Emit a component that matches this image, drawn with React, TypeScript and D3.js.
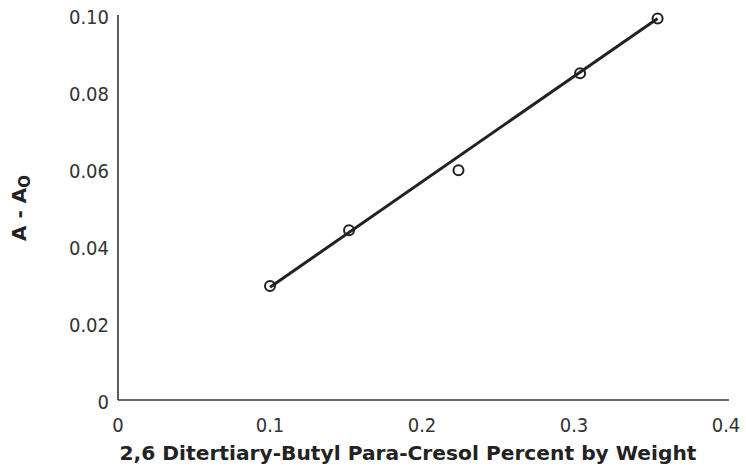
import React from "react";
import * as d3 from "d3";

const xValues = [0.1, 0.152, 0.224, 0.304, 0.355];
const yValues = [0.0296, 0.0441, 0.0597, 0.0849, 0.0991];
const fitX = [0.1, 0.355];
const fitY = [0.0293, 0.0991];
const xTicks = [0, 0.1, 0.2, 0.3, 0.4];
const xTickLabels = ["0", "0.1", "0.2", "0.3", "0.4"];
const yTicks = [0, 0.02, 0.04, 0.06, 0.08, 0.1];
const yTickLabels = ["0", "0.02", "0.04", "0.06", "0.08", "0.10"];

const W = 746;
const H = 468;
const FONT = "'DejaVu Sans', Verdana, sans-serif";
const TICKFONT = "'DejaVu Sans Condensed', 'DejaVu Sans', Verdana, sans-serif";

export default function App() {
  const x = d3.scaleLinear().domain([0, 0.4]).range([118, 726]);
  const y = d3.scaleLinear().domain([0, 0.1]).range([400, 15]);
  const line = d3
    .line<number>()
    .x((_, i) => x(fitX[i]))
    .y((d) => y(d));

  return (
    <svg
      width={W}
      height={H}
      style={{ position: "absolute", left: 0, top: 0, background: "#fff" }}
    >
      <line x1={x(0)} x2={x(0)} y1={y(0.1)} y2={y(0)} stroke="#333" strokeWidth={1.6} />
      <line x1={x(0)} x2={729} y1={y(0)} y2={y(0)} stroke="#333" strokeWidth={1.6} />

      {yTicks.map((t, i) => (
        <text
          key={"y" + i}
          x={x(0) - 9}
          y={y(t) + 2}
          dy="0.35em"
          textAnchor="end"
          fontFamily={TICKFONT}
          fontSize={20}
          fill="#333"
        >
          {yTickLabels[i]}
        </text>
      ))}
      {xTicks.map((t, i) => (
        <text
          key={"x" + i}
          x={x(t)}
          y={425}
          dy="0.35em"
          textAnchor="middle"
          fontFamily={TICKFONT}
          fontSize={20}
          fill="#333"
        >
          {xTickLabels[i]}
        </text>
      ))}

      <text
        x={408}
        y={453}
        dy="0.35em"
        textAnchor="middle"
        fontFamily={FONT}
        fontSize={20}
        fontWeight="bold"
        fill="#222"
        textLength={577}
        lengthAdjust="spacingAndGlyphs"
      >
        2,6 Ditertiary-Butyl Para-Cresol Percent by Weight
      </text>

      <text
        transform="translate(26,208) rotate(-90)"
        textAnchor="middle"
        fontFamily={FONT}
        fontSize={20}
        fontWeight="bold"
        fill="#222"
      >
        A - A<tspan fontSize={15} dy={4}>O</tspan>
      </text>

      <path d={line(fitY) || ""} fill="none" stroke="#222" strokeWidth={3} />

      {xValues.map((v, i) => (
        <circle
          key={"p" + i}
          cx={x(v)}
          cy={y(yValues[i])}
          r={5}
          fill="none"
          stroke="#222"
          strokeWidth={2}
        />
      ))}
    </svg>
  );
}
